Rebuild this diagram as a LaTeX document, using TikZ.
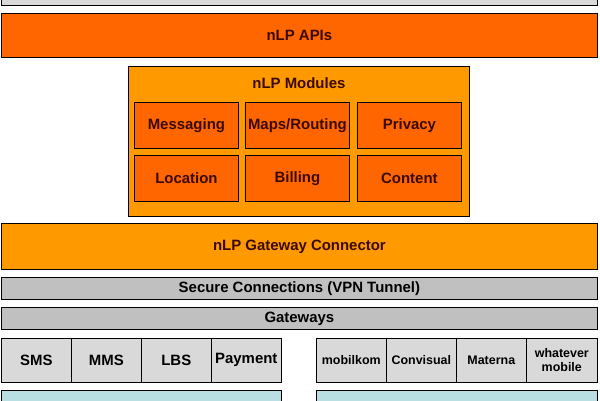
\documentclass[tikz,border=0pt]{standalone}
\usepackage{fontspec}
\setmainfont{Liberation Sans}
\usetikzlibrary{positioning}
\definecolor{nlporange}{HTML}{FF6600}
\definecolor{nlplight}{HTML}{FF9900}
\definecolor{nlpgray}{HTML}{D9D9D9}
\definecolor{nlpmid}{HTML}{C0C0C0}
\definecolor{nlpcyan}{HTML}{B9DFE3}
\definecolor{nlptext}{HTML}{3A0A00}
\newcommand{\bigfont}{\fontsize{15}{17}\selectfont\bfseries}
\newcommand{\smallfont}{\fontsize{12.5}{14}\selectfont\bfseries}
\begin{document}
\begin{tikzpicture}[x=1bp,y=-1bp,
    layer/.style={draw, thick, anchor=north west, inner sep=0pt, font=\bigfont},
    module/.style={layer, fill=nlporange, text=nlptext, minimum width=104bp, minimum height=46bp},
    cell/.style={layer, fill=nlpgray, minimum width=70bp, minimum height=44bp, line width=0.6pt},
    wide/.style={layer, minimum width=596bp}
  ]
  \useasboundingbox (0,0) rectangle (600,400);

  % Top layers
  \node[wide, fill=nlpgray, minimum height=12bp] (top) at (1,-7) {};
  \node[wide, fill=nlporange, text=nlptext, minimum height=44bp] (apis) at (1,13) {nLP APIs};

  % Modules
  \node[layer, fill=nlplight, minimum width=341bp, minimum height=150bp] (modules) at (128,66) {};
  \node[font=\bigfont, text=nlptext, below=8bp of modules.north] (modtitle) {nLP Modules};
  \node[module] (msg) at (134,102) {Messaging};
  \node[module] (maps) at (245,102) {Maps/Routing};
  \node[module] (priv) at (357,102) {Privacy};
  \node[module] (loc) at (134,155) {Location};
  \node[module] (bill) at (245,155) {Billing};
  \node[module] (cont) at (357,155) {Content};

  % Connector and gateways
  \node[wide, fill=nlplight, text=nlptext, minimum height=46bp] (conn) at (1,223) {nLP Gateway Connector};
  \node[wide, fill=nlpmid, minimum height=22bp] (secure) at (1,277) {Secure Connections (VPN Tunnel)};
  \node[wide, fill=nlpmid, minimum height=22bp] (gw) at (1,307) {Gateways};

  % Bottom cells
  \node[cell] (sms) at (1,338) {SMS};
  \node[cell] (mms) at (71,338) {MMS};
  \node[cell] (lbs) at (141,338) {LBS};
  \node[cell] (pay) at (211,338) {Payment};
  \node[cell, font=\smallfont] (mobil) at (316,338) {mobilkom};
  \node[cell, font=\smallfont] (conv) at (386,338) {Convisual};
  \node[cell, font=\smallfont] (mat) at (456,338) {Materna};
  \node[cell, font=\smallfont, align=center, minimum width=71bp] (what) at (526,338) {whatever\\mobile};

  % Bottom boxes
  \node[layer, fill=nlpcyan, minimum width=280bp, minimum height=30bp] (leftbase) at (1,390) {};
  \node[layer, fill=nlpcyan, minimum width=281bp, minimum height=30bp] (rightbase) at (316,390) {};
\end{tikzpicture}
\end{document}
